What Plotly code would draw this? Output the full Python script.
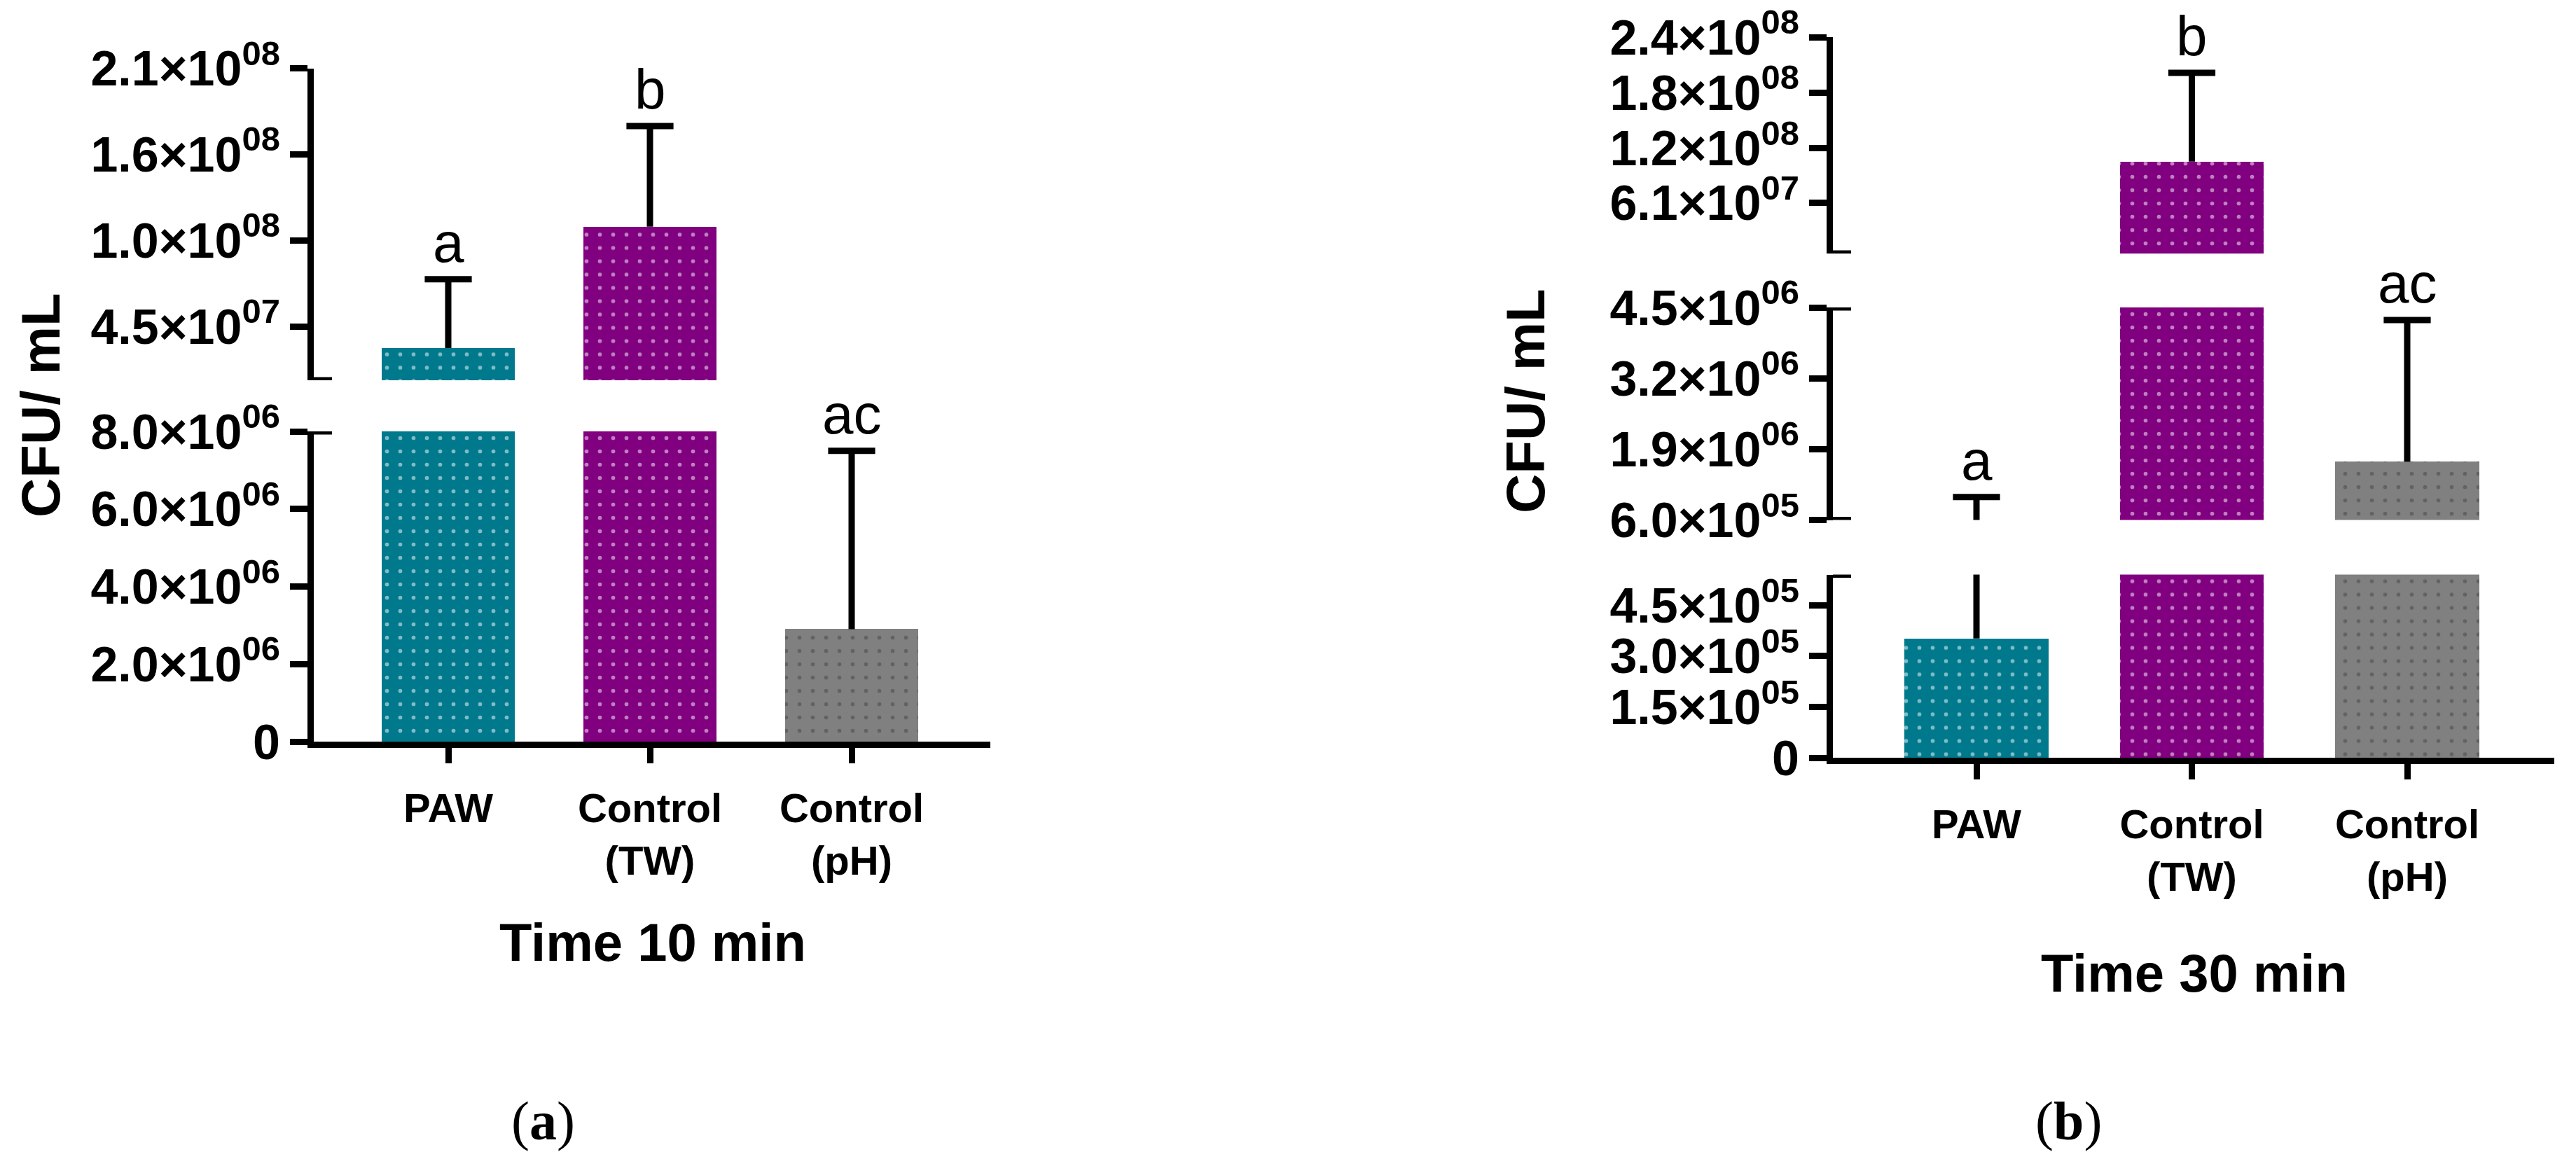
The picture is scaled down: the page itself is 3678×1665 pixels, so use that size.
import plotly.graph_objects as go

W, H = 3678, 1665

# ---- data ----
categories = ["PAW", "Control<br>(TW)", "Control<br>(pH)"]
bar_colors = ["#00798C", "#800080", "#808080"]
dot_colors = ["#40F4FF", "#FF8CFF", "#000000"]

mean_10 = [3.12e7, 1.087e8, 2.9e6]
sd_10 = [4.4e7, 6.44e7, 4.6e6]
letters_10 = ["a", "b", "ac"]

mean_30 = [3.52e5, 1.055e8, 1.67e6]
sd_30 = [6.7e5, 9.6e7, 2.6e6]
letters_30 = ["a", "b", "ac"]

# broken y axis, segments listed bottom -> top
seg_range_10 = [(0, 8.0e6), (1.06e7, 2.1e8)]
seg_ticks_10 = [[0, 2.0e6, 4.0e6, 6.0e6, 8.0e6], [4.5e7, 1.0e8, 1.55e8, 2.1e8]]
seg_text_10 = [["0", "2.0×10<sup>06</sup>", "4.0×10<sup>06</sup>", "6.0×10<sup>06</sup>", "8.0×10<sup>06</sup>"],
               ["4.5×10<sup>07</sup>", "1.0×10<sup>08</sup>", "1.6×10<sup>08</sup>", "2.1×10<sup>08</sup>"]]

seg_range_30 = [(0, 5.41e5), (6.0e5, 4.5e6), (6.2e6, 2.4e8)]
seg_ticks_30 = [[0, 1.5e5, 3.0e5, 4.5e5], [6.0e5, 1.9e6, 3.2e6, 4.5e6], [6.1e7, 1.2e8, 1.8e8, 2.4e8]]
seg_text_30 = [["0", "1.5×10<sup>05</sup>", "3.0×10<sup>05</sup>", "4.5×10<sup>05</sup>"],
               ["6.0×10<sup>05</sup>", "1.9×10<sup>06</sup>", "3.2×10<sup>06</sup>", "4.5×10<sup>06</sup>"],
               ["6.1×10<sup>07</sup>", "1.2×10<sup>08</sup>", "1.8×10<sup>08</sup>", "2.4×10<sup>08</sup>"]]

# ---- layout in pixels ----
FONT = "Liberation Sans, Arial, sans-serif"
LW = 9


def px_x(p):
    return p / W


def px_y(p):
    return 1 - p / H


panels = [
    dict(mean=mean_10, sd=sd_10, letters=letters_10, ranges=seg_range_10, ticks=seg_ticks_10, texts=seg_text_10,
         xaxis="x", yaxes=["y", "y2"], x_px=(448, 1414), centers=(640, 288), bar_w=0.663,
         seg_px=[(616, 1059), (97.5, 543)], standoff=14,
         ytitle=(58, 579), xtitle=("Time 10 min", 932, 1345), tag=("a", 775, 1600)),
    dict(mean=mean_30, sd=sd_30, letters=letters_30, ranges=seg_range_30, ticks=seg_ticks_30, texts=seg_text_30,
         xaxis="x2", yaxes=["y3", "y4", "y5"], x_px=(2617, 3647), centers=(2822, 307.5), bar_w=0.667,
         seg_px=[(820.5, 1082), (439, 742.5), (53, 362)], standoff=14,
         ytitle=(2178, 573), xtitle=("Time 30 min", 3133, 1389), tag=("b", 2953, 1600)),
]

fig = go.Figure()
layout = {}
shapes = []
annotations = []

for p in panels:
    xs = list(range(len(categories)))
    c0, step = p["centers"]
    xr = [(p["x_px"][0] - c0) / step, (p["x_px"][1] - c0) / step]
    xkey = "xaxis" + p["xaxis"][1:]
    layout[xkey] = dict(
        domain=[px_x(p["x_px"][0]), px_x(p["x_px"][1])], range=xr, anchor=p["yaxes"][0], automargin=False,
        tickvals=xs, ticktext=categories, showline=True, linecolor="black", linewidth=LW,
        ticks="outside", ticklen=22, tickwidth=LW, tickcolor="black", showgrid=False, zeroline=False,
        tickfont=dict(family=FONT, size=58, color="black", weight="bold"), ticklabelstandoff=p["standoff"],
    )
    tops = [m + s for m, s in zip(p["mean"], p["sd"])]
    n = len(p["yaxes"])
    for k, yname in enumerate(p["yaxes"]):
        lo, hi = p["ranges"][k]
        top_px, bot_px = p["seg_px"][k]
        ykey = "yaxis" + yname[1:]
        layout[ykey] = dict(
            domain=[px_y(bot_px), px_y(top_px)], range=[lo, hi], anchor=p["xaxis"], automargin=False,
            tickvals=p["ticks"][k], ticktext=p["texts"][k], showline=True, linecolor="black", linewidth=LW,
            ticks="outside", ticklen=25, tickwidth=LW, tickcolor="black", showgrid=False, zeroline=False,
            tickfont=dict(family=FONT, size=70, color="black", weight="bold"),
        )
        fig.add_trace(go.Bar(
            x=xs, y=p["mean"], width=p["bar_w"], xaxis=p["xaxis"], yaxis=yname, showlegend=False,
            marker=dict(color=bar_colors, line=dict(width=0),
                        pattern=dict(shape=".", fillmode="overlay", bgcolor=bar_colors, fgcolor=dot_colors,
                                     size=19, solidity=0.07)),
        ))
        ex, ey = [], []
        for i, (m, t) in enumerate(zip(p["mean"], tops)):
            ex += [i, i, None]
            ey += [m, t, None]
        fig.add_trace(go.Scatter(x=ex, y=ey, mode="lines", xaxis=p["xaxis"], yaxis=yname, showlegend=False,
                                 line=dict(color="black", width=LW)))
        # caps only in the segment that holds the top of the bar
        cx = [i for i, t in enumerate(tops) if lo <= t <= hi]
        if cx:
            fig.add_trace(go.Scatter(x=cx, y=[tops[i] for i in cx], mode="markers", xaxis=p["xaxis"], yaxis=yname,
                                     showlegend=False,
                                     marker=dict(symbol="line-ew", size=48, line=dict(color="black", width=LW))))
        # end caps of the broken-axis segments
        ends = []
        if k > 0:
            ends.append(lo)
        if k < n - 1:
            ends.append(hi)
        for v in ends:
            shapes.append(dict(type="line", xref=p["xaxis"], yref=yname, xsizemode="pixel", xanchor=xr[0],
                               x0=-26, x1=26, y0=v, y1=v, line=dict(color="black", width=LW)))

    # significance letters
    for i, (t, lab) in enumerate(zip(tops, p["letters"])):
        k = next(j for j, (lo, hi) in enumerate(p["ranges"]) if lo <= t <= hi)
        annotations.append(dict(x=i, y=t, xref=p["xaxis"], yref=p["yaxes"][k], text=lab, showarrow=False,
                                yanchor="bottom", yshift=6, font=dict(family=FONT, size=80, color="black")))

    annotations.append(dict(x=px_x(p["ytitle"][0]), y=px_y(p["ytitle"][1]), xref="paper", yref="paper",
                            text="CFU/ mL", textangle=-90, showarrow=False, xanchor="center", yanchor="middle",
                            font=dict(family=FONT, size=78, color="black", weight="bold")))
    t, tx, ty = p["xtitle"]
    annotations.append(dict(x=px_x(tx), y=px_y(ty), xref="paper", yref="paper", text=t, showarrow=False,
                            xanchor="center", yanchor="middle",
                            font=dict(family=FONT, size=76, color="black", weight="bold")))
    tag, gx, gy = p["tag"]
    annotations.append(dict(x=px_x(gx), y=px_y(gy), xref="paper", yref="paper", text="(<b>%s</b>)" % tag,
                            showarrow=False, xanchor="center", yanchor="middle",
                            font=dict(family="Liberation Serif, Times New Roman, serif", size=78, color="black")))

fig.update_layout(
    width=W, height=H, autosize=False, margin=dict(l=0, r=0, t=0, b=0, pad=0, autoexpand=False),
    paper_bgcolor="white", plot_bgcolor="white", showlegend=False, bargap=0,
    shapes=shapes, annotations=annotations, **layout,
)

# drop the browser's default 8px body margin so the figure sits at the page corner
fig.write_html("out.html", config={"displayModeBar": False},
               post_script="document.body.style.margin='0';")
